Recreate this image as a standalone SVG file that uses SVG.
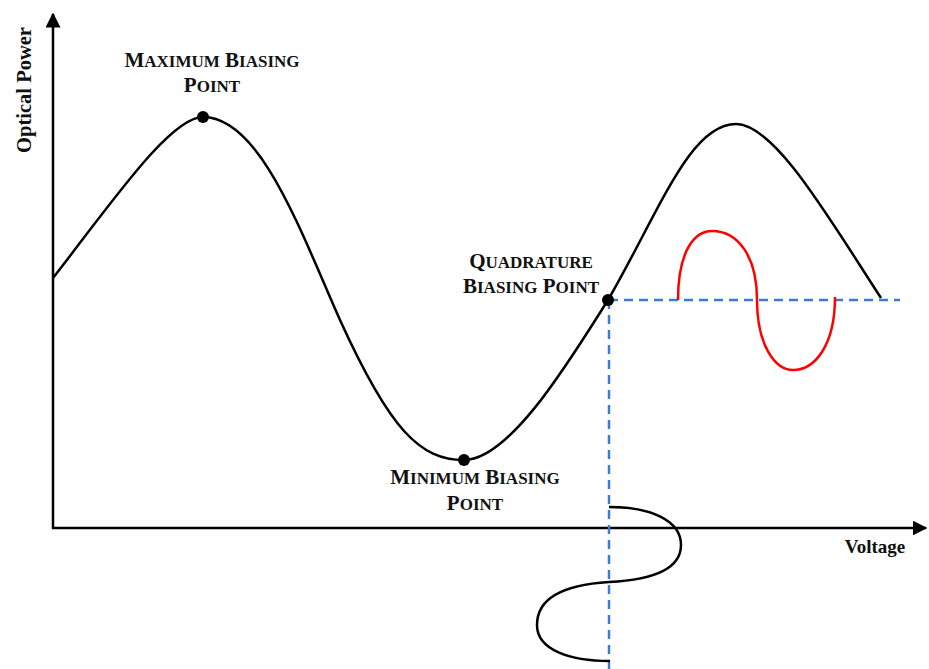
<svg xmlns="http://www.w3.org/2000/svg" width="929" height="669" viewBox="0 0 929 669">
<style>
.lbl{font-family:"Liberation Serif","Times New Roman",serif;font-weight:bold;fill:#111;font-size:21px;text-anchor:middle}
.lbl .s{font-size:17px}
.ax{font-family:"Liberation Serif","Times New Roman",serif;font-weight:bold;fill:#111;font-size:19px;text-anchor:middle}
.blk{fill:none;stroke:#000;stroke-width:2.5}
.dash{fill:none;stroke:#3a7bd5;stroke-width:2.5;stroke-dasharray:9 6}
</style>
<defs>
<marker id="arr" viewBox="0 0 10 10" refX="9" refY="5" markerWidth="6" markerHeight="6" orient="auto" markerUnits="strokeWidth">
<path d="M0,0 L10,5 L0,10 Z" fill="#000"/>
</marker>
</defs>
<rect width="929" height="669" fill="#fff"/>
<g id="connectors">
<line class="blk" x1="53" y1="529" x2="53" y2="14" marker-end="url(#arr)"/>
<line class="blk" x1="52" y1="528" x2="926" y2="528" marker-end="url(#arr)"/>
<path class="blk" d="M53,278 C110,205 170,117 203,117 C260,117 300,230 340,320 C390,430 420,460 464,460 C510,460 570,360 608,300 C660,210 690,124 736,124 C775,124 830,220 881,298"/>
<line class="dash" x1="609" y1="300" x2="900" y2="300"/>
<line class="dash" x1="609" y1="300" x2="609" y2="669"/>
<path fill="none" stroke="#f00" stroke-width="2.5" d="M678,300 C678,250 695,231 712,231 C737,231 757,255 757,300 C757,345 775,370 793,370 C815,370 835,345 835,297"/>
<path class="blk" d="M609,507 C650,507 681,520 681,545 C681,570 650,580 609,582 C560,585 537,600 537,625 C537,650 570,661 610,661"/>
</g>
<g id="max-point">
<circle cx="203" cy="117" r="6" fill="#000"/>
<text class="lbl" x="212" y="67">M<tspan class="s">AXIMUM</tspan> B<tspan class="s">IASING</tspan></text>
<text class="lbl" x="212" y="92">P<tspan class="s">OINT</tspan></text>
</g>
<g id="min-point">
<circle cx="464" cy="460" r="6" fill="#000"/>
<text class="lbl" x="475" y="484">M<tspan class="s">INIMUM</tspan> B<tspan class="s">IASING</tspan></text>
<text class="lbl" x="475" y="510">P<tspan class="s">OINT</tspan></text>
</g>
<g id="quad-point">
<circle cx="608" cy="300" r="6" fill="#000"/>
<text class="lbl" x="531" y="268">Q<tspan class="s">UADRATURE</tspan></text>
<text class="lbl" x="531" y="293">B<tspan class="s">IASING</tspan> P<tspan class="s">OINT</tspan></text>
</g>
<g id="axis-labels">
<text class="ax" x="875" y="553">Voltage</text>
<text class="ax" transform="translate(31,90) rotate(-90)" style="font-size:20.5px">Optical Power</text>
</g>
</svg>
